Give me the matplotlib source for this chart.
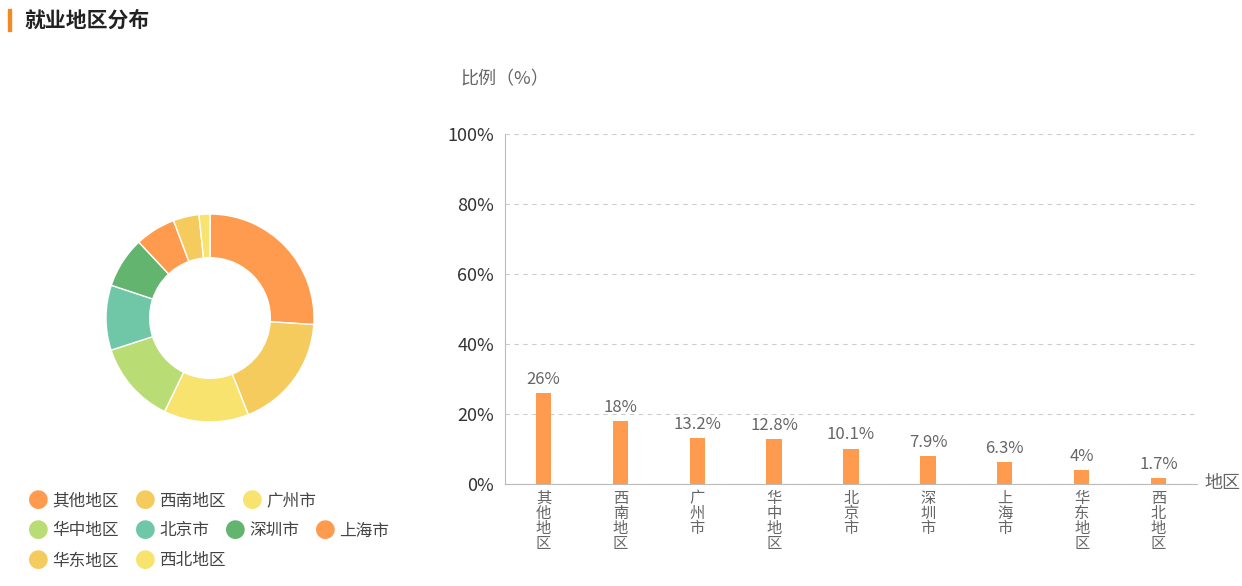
import matplotlib
matplotlib.use("Agg")
import matplotlib.pyplot as plt
from matplotlib.patches import Rectangle

plt.rcParams['font.family'] = ['Noto Sans CJK SC', 'DejaVu Sans']

regions = ["其他地区", "西南地区", "广州市", "华中地区", "北京市", "深圳市", "上海市", "华东地区", "西北地区"]
values = [26, 18, 13.2, 12.8, 10.1, 7.9, 6.3, 4, 1.7]
labels = ["26%", "18%", "13.2%", "12.8%", "10.1%", "7.9%", "6.3%", "4%", "1.7%"]
colors = ["#FF9B4E", "#F5CB5E", "#F7E36E", "#B9DD74", "#6FC7A8", "#63B46F", "#FF9B4E", "#F5CB5E", "#F7E36E"]

W, H = 1242, 586
fig = plt.figure(figsize=(W / 100, H / 100), dpi=100)

# title
fig.patches.append(Rectangle((8 / W, 1 - 31 / H), 3 / W, 22 / H, transform=fig.transFigure,
                             color="#F08A24"))
fig.text(24 / W, 1 - 20 / H, "就业地区分布", fontsize=15, fontweight="bold", va="center", color="#222222")

# donut
r = 104
axp = fig.add_axes([(210 - r) / W, 1 - (318 + r) / H, 2 * r / W, 2 * r / H])
axp.pie(values, colors=colors, startangle=90, counterclock=False,
        wedgeprops=dict(width=0.42, edgecolor="white", linewidth=1))
axp.set_xlim(-1, 1)
axp.set_ylim(-1, 1)
axp.set_aspect("equal")

# legend
rows = [[0, 1, 2], [3, 4, 5, 6], [7, 8]]
for ri, row in enumerate(rows):
    x = 28
    y = 1 - (501 + ri * 30) / H
    for i in row:
        fig.text(x / W, y, "●", color=colors[i], fontsize=15, va="center", ha="left")
        fig.text((x + 24) / W, y, regions[i], fontsize=12, va="center", color="#444444")
        x += 24 + len(regions[i]) * 17 + 15

# bars
ax = fig.add_axes([505 / W, 1 - 484 / H, (1197 - 505) / W, (484 - 134) / H])
xs = range(len(regions))
ax.bar(xs, values, width=0.2, color="#FF9B4E")
for x, v, t in zip(xs, values, labels):
    ax.text(x, v + 1.5, t, ha="center", va="bottom", fontsize=12, color="#666666")
ax.set_ylim(0, 100)
ax.set_xlim(-0.5, len(regions) - 0.5)
ax.set_yticks(range(0, 101, 20))
ax.set_yticklabels([f"{v}%" for v in range(0, 101, 20)], fontsize=13, color="#333333")
ax.set_xticks(list(xs))
ax.set_xticklabels(["\n".join(n) for n in regions], fontsize=11, color="#666666", linespacing=0.85)
ax.yaxis.grid(True, linestyle=(0, (4, 4)), color="#CCCCCC")
ax.set_axisbelow(True)
for s in ["top", "right"]:
    ax.spines[s].set_visible(False)
ax.spines["left"].set_color("#BBBBBB")
ax.spines["bottom"].set_color("#BBBBBB")
ax.tick_params(length=0, pad=8)
ax.tick_params(axis="x", pad=4)
fig.text(460 / W, 1 - 79 / H, "比例（%）", fontsize=13, va="center", color="#666666")
fig.text(1204 / W, 1 - 483 / H, "地区", fontsize=13, va="center", color="#666666")

fig.savefig("out.png", dpi=100)
